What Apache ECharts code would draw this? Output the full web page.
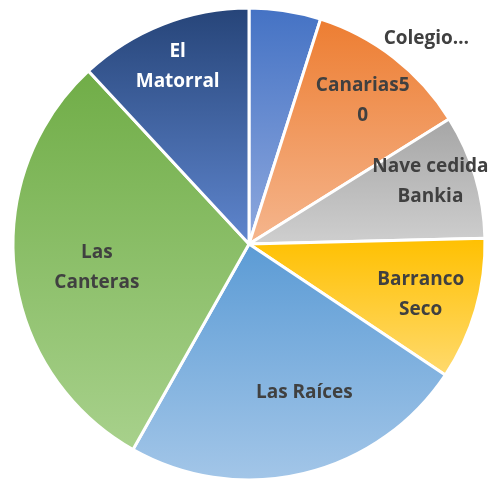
<!DOCTYPE html>
<html>
<head>
<meta charset="utf-8">
<script src="https://cdn.jsdelivr.net/npm/echarts@6/dist/echarts.min.js"></script>
<style>
  html, body { margin: 0; padding: 0; background: #fff; }
  #main { width: 490px; height: 482px; }
</style>
</head>
<body>
<div id="main"></div>
<script>
// datos
var categories = ['Colegio…', 'Canarias50', 'Nave cedida Bankia', 'Barranco Seco', 'Las Raíces', 'Las Canteras', 'El Matorral'];
var values = [4.9, 11.2, 8.5, 9.75, 23.8, 29.9, 11.9];
var labelText = ['Colegio…', 'Canarias5\n0', 'Nave cedida\nBankia', 'Barranco\nSeco', 'Las Raíces', 'Las\nCanteras', 'El\nMatorral'];

// colores (arriba, abajo) de cada porción
var topColors = ['#4472C4', '#ED7D31', '#A5A5A5', '#FFC000', '#5B9BD5', '#70AD47', '#264478'];
var bottomColors = ['#8FA9DE', '#F5B68E', '#CFCFCF', '#FFDA6E', '#A3C6E8', '#A8D18C', '#5F86CE'];
var labelColors = ['#404040', '#404040', '#404040', '#404040', '#404040', '#404040', '#ffffff'];
// posición de la etiqueta: distancia al centro (px) y giro respecto al centro de la porción (grados)
var labelRadius = [269, 180, 189, 176, 156, 151, 188];
var labelShift = [32.3, 0.6, -2.4, 0.3, -7.1, -2.2, -0.5];

var R = 236;
var total = 0;
values.forEach(function (v) { total += v; });

var ds = [];
var acc = 0;
for (var i = 0; i < values.length; i++) {
    var mid = (acc + values[i] / 2) / total * Math.PI * 2;
    acc += values[i];
    // la etiqueta 'inside' de echarts queda en R/2 sobre el ángulo medio
    var baseX = R / 2 * Math.sin(mid), baseY = -R / 2 * Math.cos(mid);
    var a = mid + labelShift[i] * Math.PI / 180;
    var offset = [labelRadius[i] * Math.sin(a) - baseX, -labelRadius[i] * Math.cos(a) - baseY];
    ds.push({
        name: categories[i],
        value: values[i],
        itemStyle: {
            color: new echarts.graphic.LinearGradient(0, 0, 0, 1, [
                { offset: 0, color: topColors[i] },
                { offset: 1, color: bottomColors[i] }
            ])
        },
        label: {
            color: labelColors[i],
            offset: offset,
            formatter: labelText[i]
        }
    });
}

var myChart = echarts.init(document.getElementById('main'));
myChart.setOption({
    animation: false,
    series: [{
        type: 'pie',
        center: [249, 244],
        radius: [0, R],
        startAngle: 90,
        clockwise: true,
        avoidLabelOverlap: false,
        itemStyle: {
            borderColor: '#ffffff',
            borderWidth: 3
        },
        label: {
            show: true,
            position: 'inside',
            fontFamily: 'Open Sans',
            fontWeight: 'bold',
            fontSize: 19,
            lineHeight: 30,
            align: 'center'
        },
        labelLine: { show: false },
        emphasis: { disabled: true },
        data: ds
    }]
});
</script>
</body>
</html>
